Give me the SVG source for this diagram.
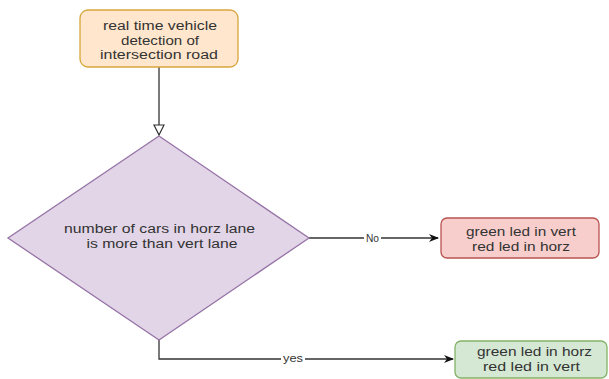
<svg xmlns="http://www.w3.org/2000/svg" width="609" height="379" viewBox="0 0 609 379">
<defs>
<style>
text{font-family:"Liberation Sans",Arial,sans-serif;font-size:12.5px;fill:#333;text-anchor:middle}
.lbl{font-size:11px}
.edge{fill:none;stroke:#333;stroke-width:1.3}
</style>
<marker id="open" viewBox="0 0 12 12" refX="11" refY="6" markerWidth="12" markerHeight="12" markerUnits="userSpaceOnUse" orient="auto">
<path d="M1,1 L11,6 L1,11 Z" fill="#fff" stroke="#333" stroke-width="1.2"/>
</marker>
<marker id="block" viewBox="0 0 10 10" refX="9" refY="5" markerWidth="10" markerHeight="10" markerUnits="userSpaceOnUse" orient="auto">
<path d="M0,1 L10,5 L0,9 L3,5 Z" fill="#111"/>
</marker>
</defs>
<rect width="609" height="379" fill="#fff"/>
<g id="connectors">
<path class="edge" d="M159,67 V135" marker-end="url(#open)"/>
<path class="edge" d="M309,238 H438" marker-end="url(#block)"/>
<path class="edge" d="M159,340 V359 H453" marker-end="url(#block)"/>
<rect x="364" y="231" width="17" height="13" fill="#fff"/>
<text class="lbl" x="372.5" y="242" textLength="13" lengthAdjust="spacingAndGlyphs">No</text>
<rect x="281" y="352" width="24" height="13" fill="#fff"/>
<text class="lbl" x="293" y="362" textLength="20" lengthAdjust="spacingAndGlyphs">yes</text>
</g>
<g id="start">
<rect x="80" y="10" width="158" height="57" rx="8" fill="#ffe6cc" stroke="#d7a63a" stroke-width="1.3"/>
<text x="160" y="30" textLength="114" lengthAdjust="spacingAndGlyphs">real time vehicle</text>
<text x="160" y="44.5" textLength="78" lengthAdjust="spacingAndGlyphs">detection of</text>
<text x="159" y="59" textLength="118" lengthAdjust="spacingAndGlyphs">intersection road</text>
</g>
<g id="decision">
<polygon points="159,136 309,238 159,340 8,238" fill="#e1d5e7" stroke="#9673a6" stroke-width="1.3"/>
<text x="159.5" y="233" textLength="191" lengthAdjust="spacingAndGlyphs">number of cars in horz lane</text>
<text x="162" y="247.5" textLength="151" lengthAdjust="spacingAndGlyphs">is more than vert lane</text>
</g>
<g id="no-result">
<rect x="441" y="218" width="158" height="40" rx="6" fill="#f8cecc" stroke="#b85450" stroke-width="1.3"/>
<text x="521" y="236" textLength="110" lengthAdjust="spacingAndGlyphs">green led in vert</text>
<text x="521" y="250.5" textLength="98" lengthAdjust="spacingAndGlyphs">red led in horz</text>
</g>
<g id="yes-result">
<rect x="455" y="341" width="152" height="37" rx="6" fill="#d5e8d4" stroke="#82b366" stroke-width="1.3"/>
<text x="534.5" y="356" textLength="115" lengthAdjust="spacingAndGlyphs">green led in horz</text>
<text x="531.5" y="370.5" textLength="97" lengthAdjust="spacingAndGlyphs">red led in vert</text>
</g>
</svg>
